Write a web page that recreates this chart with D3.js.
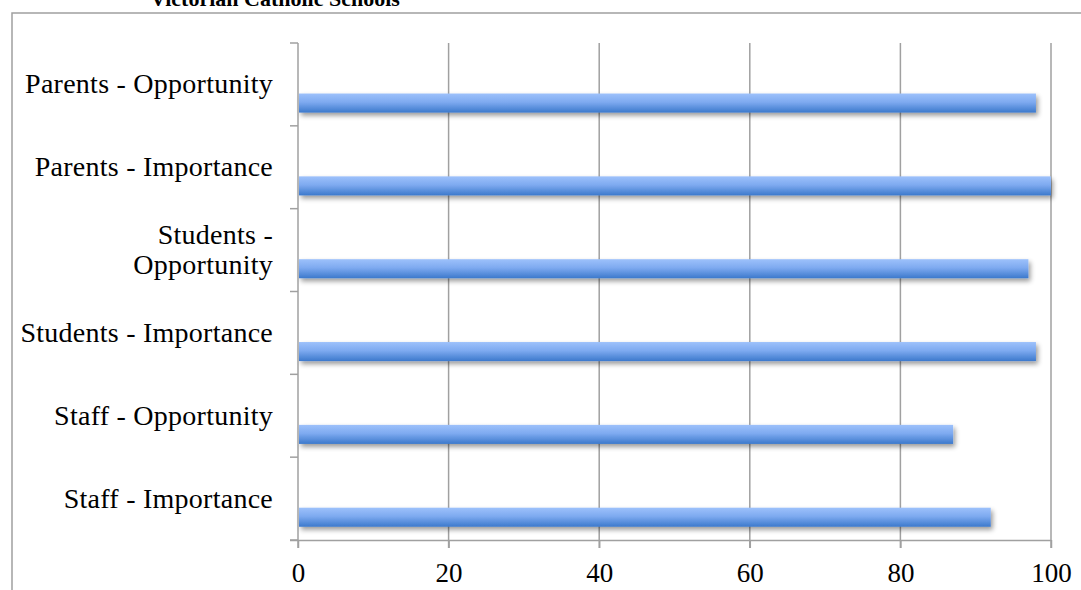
<!DOCTYPE html>
<html><head><meta charset="utf-8">
<script src="https://cdn.jsdelivr.net/npm/d3@7"></script>
<style>
html,body{margin:0;padding:0;background:#fff;overflow:hidden}
svg{display:block}
</style></head>
<body>
<svg id="c" width="1081" height="590"></svg>
<script>
const title = "Victorian Catholic Schools";
const categories = ["Parents - Opportunity","Parents - Importance","Students - Opportunity","Students - Importance","Staff - Opportunity","Staff - Importance"];
const categoryLines = [["Parents - Opportunity"],["Parents - Importance"],["Students -","Opportunity"],["Students - Importance"],["Staff - Opportunity"],["Staff - Importance"]];
const values = [98, 100, 97, 98, 87, 92];
const xTicks = [0, 20, 40, 60, 80, 100];

const svg = d3.select("#c");
const gray = "#a0a0a0";
const font = "'Liberation Serif','Times New Roman',serif";

const defs = svg.append("defs");
const grad = defs.append("linearGradient").attr("id","bg").attr("x1",0).attr("y1",0).attr("x2",0).attr("y2",1);
grad.append("stop").attr("offset","0%").attr("stop-color","#9dc1fb");
grad.append("stop").attr("offset","45%").attr("stop-color","#7eaaf0");
grad.append("stop").attr("offset","100%").attr("stop-color","#3c79cc");
const f = defs.append("filter").attr("id","sh").attr("x","-5%").attr("y","-50%").attr("width","110%").attr("height","220%");
f.append("feGaussianBlur").attr("in","SourceAlpha").attr("stdDeviation",2.4).attr("result","b");
f.append("feOffset").attr("in","b").attr("dx",2).attr("dy",3).attr("result","o");
f.append("feComponentTransfer").attr("in","o").attr("result","o2").append("feFuncA").attr("type","linear").attr("slope",0.4);
const fm = f.append("feMerge");
fm.append("feMergeNode").attr("in","o2");
fm.append("feMergeNode").attr("in","SourceGraphic");

// outer border
svg.append("path").attr("d","M12,600 L12,13 L1090,13").attr("fill","none").attr("stroke",gray).attr("stroke-width",1.5);

// title (partly above the top edge, as in the reference)
svg.append("text").attr("x",275).attr("y",6).attr("text-anchor","middle")
  .attr("font-family",font).attr("font-weight","bold").attr("font-size",22).attr("fill","#000").text(title);

const x = d3.scaleLinear().domain([0,100]).range([298,1051]);
const y = d3.scaleBand().domain(categories).range([43,540]).paddingInner(0).paddingOuter(0);

// grid lines
svg.append("g").selectAll("line").data(xTicks.filter(d=>d>0)).join("line")
  .attr("x1",d=>x(d)).attr("x2",d=>x(d)).attr("y1",43).attr("y2",548)
  .attr("stroke",gray).attr("stroke-width",1.5);

// bars
const bw = y.bandwidth();
svg.append("g").selectAll("rect").data(categories).join("rect")
  .attr("x",x(0)+1).attr("y",(d)=>y(d)+bw*0.61)
  .attr("width",(d,i)=>x(values[i])-x(0)-1).attr("height",bw*0.23)
  .attr("fill","url(#bg)").attr("filter","url(#sh)");

// x axis
const xAxis = d3.axisBottom(x).tickValues(xTicks).tickSize(8).tickFormat(d3.format("d"));
const gx = svg.append("g").attr("transform","translate(0,540)").call(xAxis);
gx.select(".domain").attr("d","M290,0.5H1051").attr("stroke",gray).attr("stroke-width",1.5);
gx.selectAll(".tick line").attr("stroke",gray).attr("stroke-width",1.5);
gx.selectAll(".tick text").attr("font-family",font).attr("font-size",27).attr("fill","#000").attr("dy",0).attr("y",42);

// y axis
const yTickPos = d3.range(categories.length+1).map(i=>43+i*bw);
const gy = svg.append("g");
gy.append("line").attr("x1",298).attr("x2",298).attr("y1",43).attr("y2",548).attr("stroke",gray).attr("stroke-width",1.5);
gy.selectAll("line.t").data(yTickPos).join("line").attr("class","t")
  .attr("x1",290).attr("x2",298).attr("y1",d=>d).attr("y2",d=>d).attr("stroke",gray).attr("stroke-width",1.5);

// category labels
const lg = svg.append("g");
categories.forEach((c,i)=>{
  const lines = categoryLines[i];
  const cy = y(c)+bw/2;
  const lh = 30;
  const t = lg.append("text").attr("text-anchor","end").attr("font-family",font).attr("font-size",28)
    .attr("letter-spacing",0.25).attr("fill","#000");
  lines.forEach((ln,j)=>{
    t.append("tspan").attr("x",273).attr("y",cy + 9 + (j-(lines.length-1)/2)*lh).text(ln);
  });
});
</script>
</body></html>
